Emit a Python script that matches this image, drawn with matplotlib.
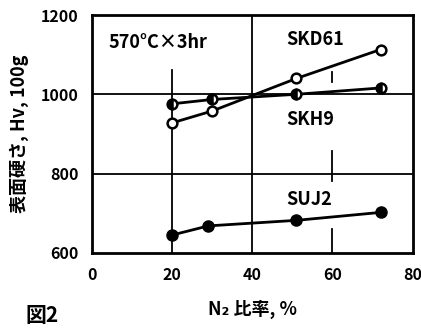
import matplotlib.pyplot as plt

plt.rcParams['font.family'] = ['Noto Sans CJK JP', 'DejaVu Sans']

# N2 ratio (%) and surface hardness (Hv, 100g)
n2_skd61 = [20, 30, 51, 72]
hv_skd61 = [928, 958, 1040, 1113]
n2_skh9 = [20, 30, 51, 72]
hv_skh9 = [976, 987, 1000, 1016]
n2_suj2 = [20, 29, 51, 72]
hv_suj2 = [645, 668, 682, 702]

x_ticks = [0, 20, 40, 60, 80]
y_ticks = [600, 800, 1000, 1200]

fig = plt.figure(figsize=(4.21, 3.34), dpi=100)
ax = fig.add_axes([0.219, 0.243, 0.761, 0.712])

# partial grid lines like the original hand drawing
ax.axhline(1000, color='black', lw=1.3, zorder=1)
ax.axhline(800, color='black', lw=1.3, zorder=1)
ax.axvline(20, ymin=0.0, ymax=0.77, color='black', lw=1.3, zorder=1)
ax.axvline(40, color='black', lw=1.3, zorder=1)
ax.axvline(60, ymin=0.0, ymax=0.1, color='black', lw=1.3, zorder=1)
ax.axvline(60, ymin=0.3, ymax=0.43, color='black', lw=1.3, zorder=1)
ax.axvline(60, ymin=0.72, ymax=0.76, color='black', lw=1.3, zorder=1)

mk = dict(markersize=7, markeredgewidth=1.8, color='black', lw=2, zorder=3)
ax.plot(n2_skd61, hv_skd61, marker='o', markerfacecolor='white', **mk)
ax.plot(n2_skh9, hv_skh9, marker='o', fillstyle='left',
        markerfacecoloralt='white', **mk)
ax.plot(n2_suj2, hv_suj2, marker='o', markerfacecolor='black', markersize=8,
        color='black', lw=2, zorder=3)

ax.set_xlim(0, 80)
ax.set_ylim(600, 1200)
ax.set_xticks(x_ticks)
ax.set_yticks(y_ticks)
ax.tick_params(length=0, labelsize=11.5, pad=10)
for lab in ax.get_xticklabels() + ax.get_yticklabels():
    lab.set_fontweight('bold')
for s in ax.spines.values():
    s.set_linewidth(2)

txt = dict(fontsize=13, fontweight='bold', color='black')
ax.text(4, 1130, '570°C×3hr', **txt, va='center')
ax.text(48.5, 1137, 'SKD61', **txt, va='center')
ax.text(48.5, 937, 'SKH9', **txt, va='center')
ax.text(48.5, 734, 'SUJ2', **txt, va='center')

ax.set_xlabel('N₂ 比率, %', fontsize=13, fontweight='bold', labelpad=12)
ax.set_ylabel('表面硬さ, Hv, 100g', fontsize=13, fontweight='bold', labelpad=8)
fig.text(0.06, 0.035, '図2', fontsize=15, fontweight='bold')

fig.savefig('out.png', dpi=100)
